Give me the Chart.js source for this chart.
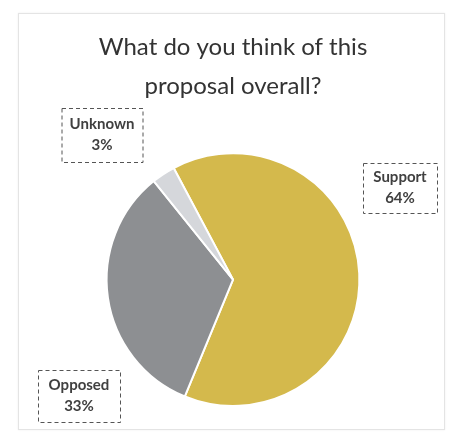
<!DOCTYPE html>
<html>
<head>
<meta charset="utf-8">
<script src="https://cdn.jsdelivr.net/npm/chart.js@4"></script>
<style>
  body { margin: 0; background: #fff; }
  #wrap { position: relative; width: 450px; height: 445px; }
  #frame {
    position: absolute; left: 18px; top: 13px; width: 425px; height: 415px;
    border: 1px solid #e4e4e4; box-shadow: 0 0 2px #eeeeee;
  }
  canvas { position: absolute; left: 0; top: 0; }
</style>
</head>
<body>
<div id="wrap">
  <div id="frame"></div>
  <canvas id="pieChart" width="450" height="445"></canvas>
</div>
<script>
const categories = ['Support', 'Opposed', 'Unknown'];
const percentages = [64, 33, 3];

const sliceColors = ['#d4b94c', '#8d8f92', '#d5d7db'];
// where each callout box sits (centre, in px)
const calloutBoxes = [
  {x: 400, y: 188, w: 74, h: 50},
  {x: 79, y: 396, w: 82, h: 52},
  {x: 102, y: 135, w: 81, h: 54}
];

const calloutPlugin = {
  id: 'callouts',
  afterDatasetsDraw(chart) {
    const ctx = chart.ctx;
    const data = chart.data.datasets[0].data;
    ctx.save();
    data.forEach((v, i) => {
      const b = calloutBoxes[i];
      ctx.setLineDash([4, 3]);
      ctx.lineWidth = 1;
      ctx.strokeStyle = '#555';
      ctx.strokeRect(b.x - b.w / 2 + 0.5, b.y - b.h / 2 + 0.5, b.w, b.h);
      ctx.setLineDash([]);
      ctx.fillStyle = '#404040';
      ctx.font = 'bold 15px Lato';
      ctx.textAlign = 'center';
      ctx.textBaseline = 'middle';
      ctx.fillText(chart.data.labels[i], b.x, b.y - 10.5);
      ctx.fillText(v + '%', b.x, b.y + 10.5);
    });
    ctx.restore();
  }
};

new Chart(document.getElementById('pieChart'), {
  type: 'pie',
  data: {
    labels: categories,
    datasets: [{
      data: percentages,
      backgroundColor: sliceColors,
      borderColor: '#ffffff',
      borderWidth: 2
    }]
  },
  options: {
    responsive: false,
    animation: false,
    rotation: -28,
    layout: {
      padding: {left: 16, right: 0, top: 0, bottom: 38}
    },
    plugins: {
      legend: { display: false },
      tooltip: { enabled: false },
      title: {
        display: true,
        text: ['What do you think of this', 'proposal overall?'],
        color: '#333333',
        font: { family: 'Lato', size: 24, weight: 'normal', lineHeight: 1.65 },
        padding: { top: 27, bottom: 46 }
      }
    }
  },
  plugins: [calloutPlugin]
});
</script>
</body>
</html>
